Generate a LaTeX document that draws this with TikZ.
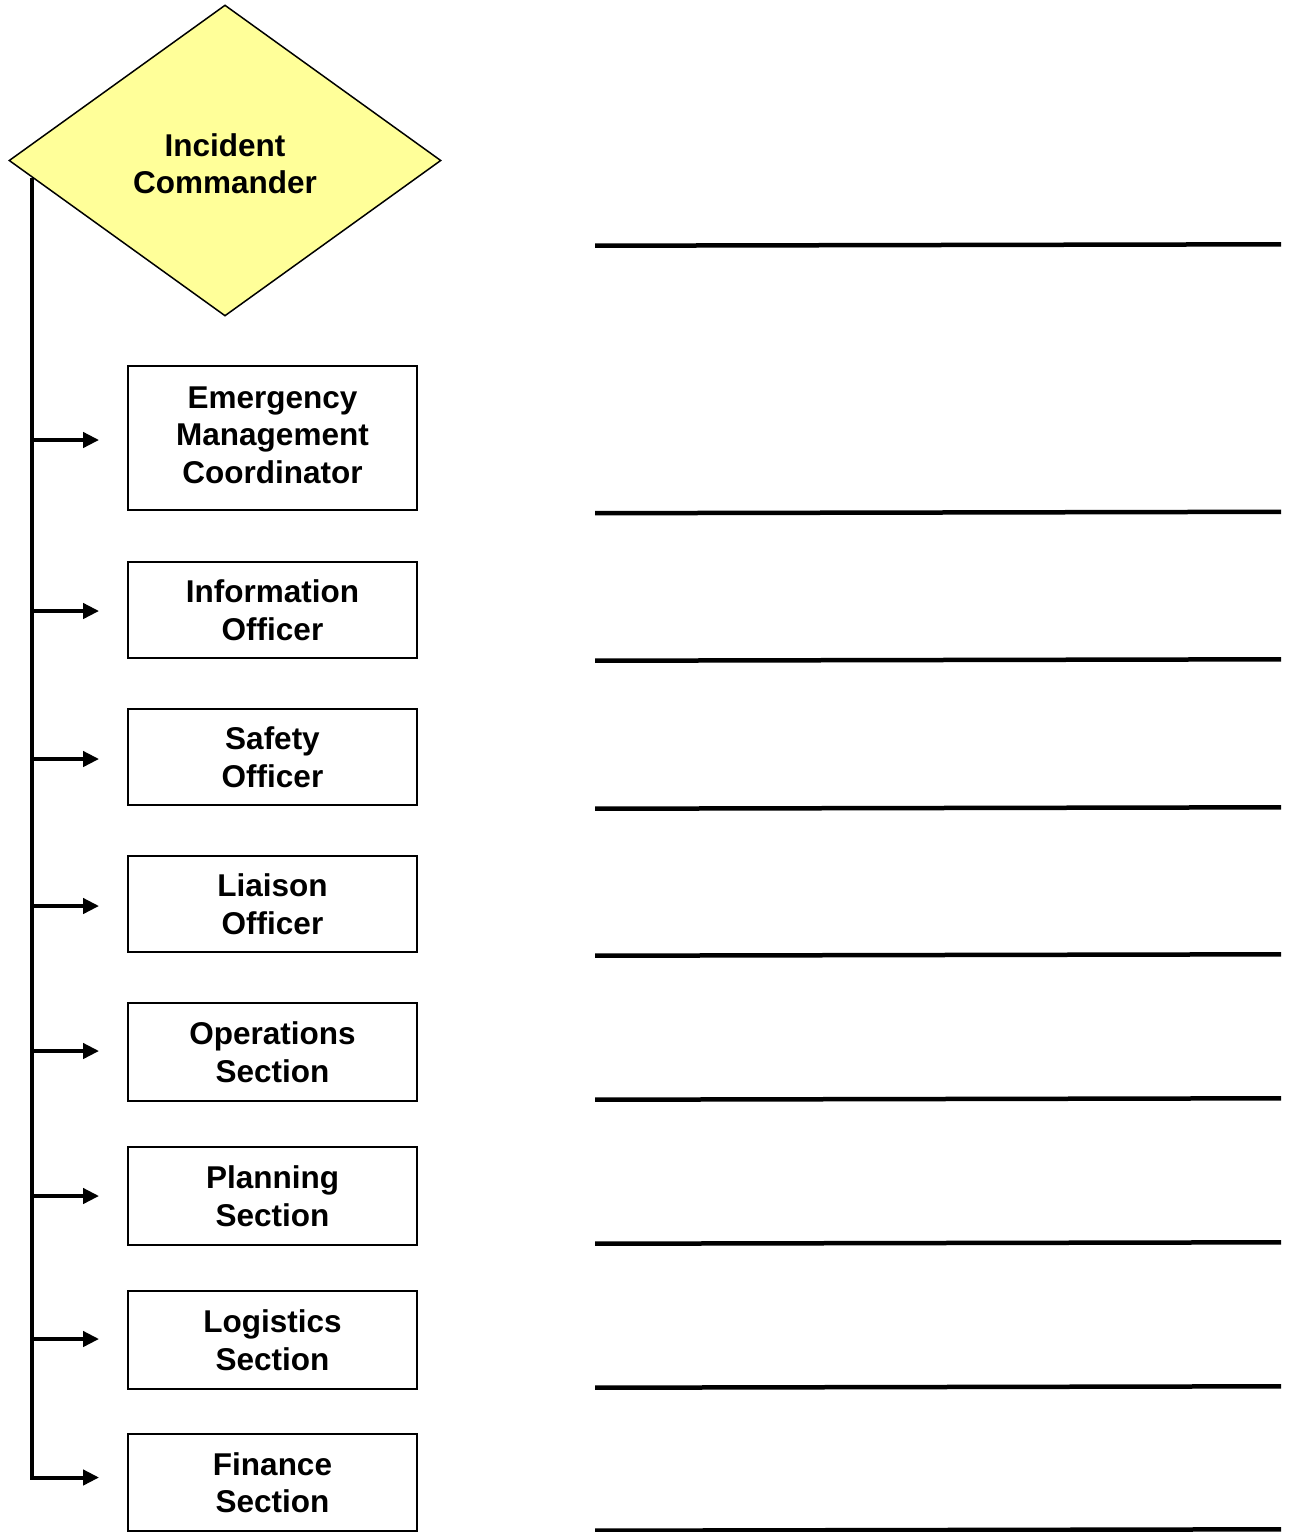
\documentclass[tikz,border=0pt]{standalone}
\usepackage{fontspec}
\setmainfont{Liberation Sans}
\usetikzlibrary{shapes.geometric,arrows.meta,calc}
\definecolor{icyellow}{HTML}{FFFF99}
\tikzset{
  lbl/.style={font=\fontsize{31.5}{37.5}\selectfont\bfseries, align=center},
  role/.style={lbl, draw=black, line width=1.8pt, fill=white, minimum width=289pt, inner sep=0pt},
  cmd/.style={lbl, shape=diamond, draw=black, line width=1.5pt, fill=icyellow, minimum width=432pt, minimum height=311pt, inner sep=0pt},
  trunk/.style={line width=4pt},
  arr/.style={line width=4pt, -{Triangle[length=16pt,width=15pt]}, shorten >=28pt},
  blank/.style={line width=4.5pt}
}
\begin{document}
\begin{tikzpicture}[x=1pt,y=-1pt]
\useasboundingbox (0,0) rectangle (1289,1532);
\node[cmd] (ic) at (225,160.5) {\rule{0pt}{29pt}Incident\\Commander};
\coordinate (top) at ($(ic.west)!0.111!(ic.south)$);
\node[role, minimum height=144pt] (emc) at (272.5,438) {Emergency\\Management\\Coordinator\rule[-6pt]{0pt}{6pt}};
\node[role, minimum height=96pt] (info) at (272.5,610) {Information\\Officer};
\node[role, minimum height=96pt] (safe) at (272.5,757) {Safety\\Officer};
\node[role, minimum height=96pt] (liai) at (272.5,904) {Liaison\\Officer};
\node[role, minimum height=98pt] (ops) at (272.5,1052) {Operations\\Section};
\node[role, minimum height=98pt] (plan) at (272.5,1196) {Planning\\Section};
\node[role, minimum height=98pt] (logi) at (272.5,1340) {Logistics\\Section};
\node[role, minimum height=97pt] (fin) at (272.5,1482.5) {Finance\\Section};
\draw[arr] (top) |- ($(fin.west)+(0,-5)$);
\foreach \b/\dy in {emc/2, info/1, safe/2, liai/2, ops/-1, plan/0, logi/-1} {
  \draw[arr] (top |- {$(\b.west)+(0,\dy)$}) -- ($(\b.west)+(0,\dy)$);
}
\foreach \y in {245,512.5,660,808,955,1099,1243,1387,1530} {
  \draw[blank] (595,\y+0.7) -- (1281,\y-0.7);
}
\end{tikzpicture}
\end{document}
